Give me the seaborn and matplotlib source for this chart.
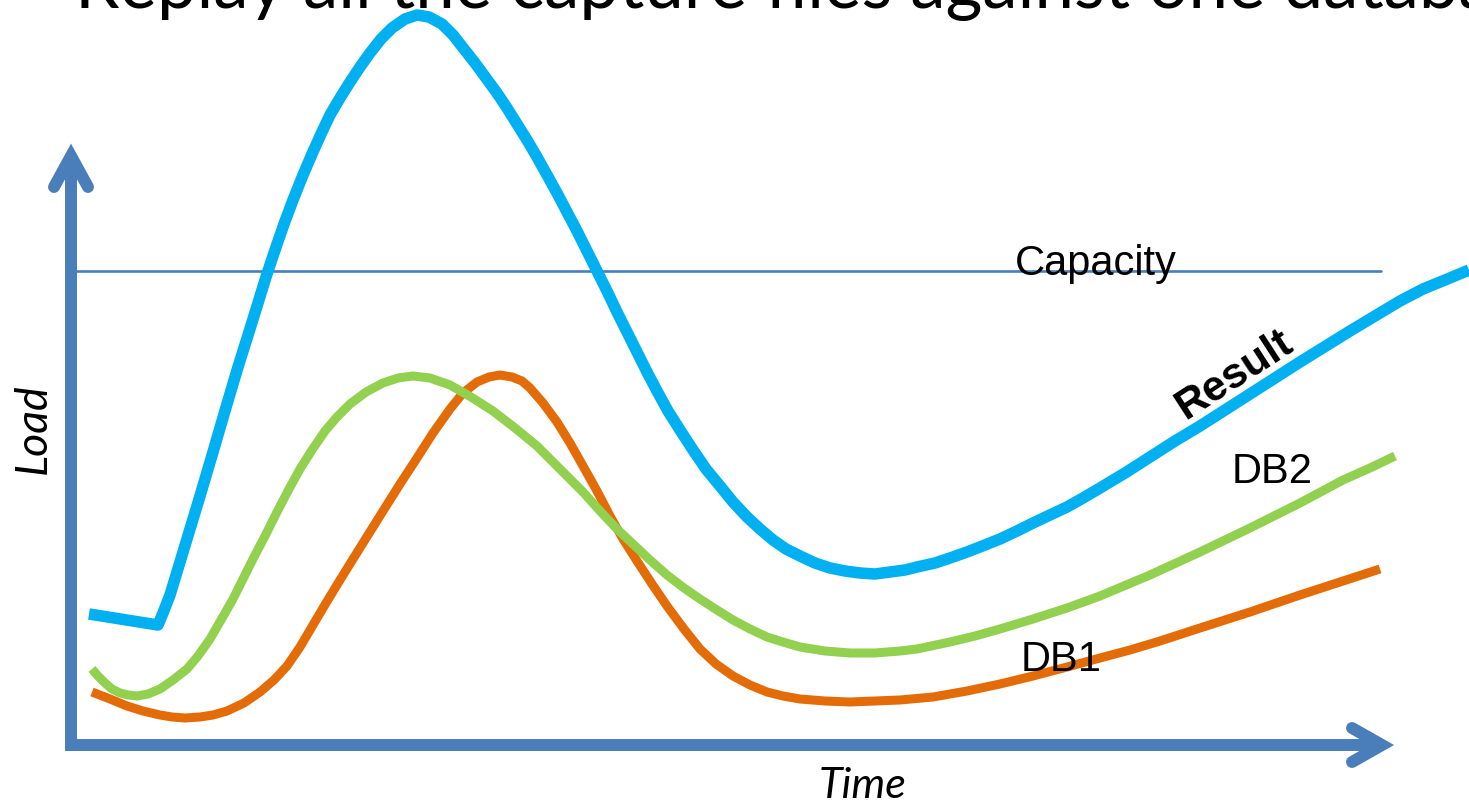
import matplotlib
matplotlib.use("Agg")
import matplotlib.pyplot as plt
import seaborn as sns
import pandas as pd

# ---- data (time, load); load 0 = time axis ----
result_time = [18, 87, 92, 99, 109, 119, 129, 142, 156, 167, 178, 187, 195, 204, 213, 222,
               232, 241, 250, 259, 269, 279, 289, 299, 310, 321, 334, 346, 358, 371, 382,
               393, 404, 415, 426, 436, 446, 456, 466, 476, 486, 496, 506, 516, 526, 536,
               546, 556, 566, 576, 586, 597, 609, 622, 635, 649, 662, 676, 689, 702, 715,
               729, 744, 759, 774, 789, 804, 819, 834, 846, 864, 879, 896, 914, 929, 946,
               962, 979, 996, 1012, 1029, 1054, 1079, 1104, 1129, 1179, 1229, 1279, 1329,
               1352, 1374, 1398]
result_load = [131, 120, 132, 150, 183, 216, 249, 293, 341, 378, 413, 442, 468, 495, 521, 545,
               570, 591, 611, 630, 647, 663, 678, 692, 706, 717, 726, 730, 728, 721, 710,
               696, 682, 667, 652, 637, 621, 605, 588, 570, 552, 533, 514, 494, 474, 454,
               433, 413, 393, 373, 354, 334, 315, 295, 276, 259, 243, 228, 216, 205, 196,
               189, 182, 177, 174, 172, 171, 173, 175, 178, 182, 187, 193, 200, 206, 214,
               222, 230, 238, 247, 257, 272, 288, 304, 319, 351, 383, 414, 444,
               456, 465, 475]

db2_time = [21, 27, 34, 41, 49, 57, 66, 77, 89, 102, 116, 127, 139, 150, 162, 172, 182,
            194, 206, 218, 229, 241, 254, 266, 279, 295, 312, 327, 342, 359, 379, 400,
            422, 444, 466, 489, 512, 529, 546, 563, 579, 596, 613, 629, 646, 662, 679,
            696, 712, 729, 754, 779, 804, 829, 846, 879, 904, 929, 962, 996, 1029, 1079,
            1129, 1179, 1229, 1272, 1299, 1324]
db2_load = [76, 69, 62, 56, 52, 50, 49, 51, 56, 65, 76, 89, 106, 125, 146, 166, 186,
            209, 233, 256, 276, 295, 314, 328, 341, 353, 362, 367, 369, 367, 360, 348,
            334, 317, 299, 276, 253, 234, 216, 200, 185, 170, 157, 146, 135, 125, 116,
            108, 103, 98, 94, 92, 92, 94, 96, 103, 109, 116, 126, 137, 149, 170,
            193, 217, 242, 265, 277, 289]

db1_time = [21, 39, 56, 72, 89, 101, 114, 129, 142, 156, 173, 189, 203, 216, 229, 242,
            255, 269, 282, 297, 312, 329, 346, 362, 379, 392, 406, 418, 429, 441, 451,
            459, 472, 486, 499, 512, 526, 539, 552, 566, 581, 596, 613, 629, 645, 662,
            679, 696, 712, 729, 754, 779, 804, 829, 862, 896, 929, 962, 996, 1029, 1059,
            1089, 1129, 1179, 1229, 1269, 1309]
db1_load = [53, 46, 39, 34, 30, 28, 27, 28, 30, 34, 42, 53, 65, 79, 98, 120,
            142, 165, 186, 210, 234, 261, 287, 312, 336, 352, 363, 368, 370, 368, 364,
            357, 342, 323, 302, 279, 254, 229, 206, 184, 161, 139, 116, 96, 81, 69,
            60, 53, 49, 46, 44, 43, 44, 45, 48, 54, 61, 69, 78, 87, 95,
            104, 117, 133, 150, 163, 176]

capacity_time = [6, 1310]
capacity_load = [474, 474]

title_text = "Replay all the capture files against one database"
labels = {"Capacity": "Capacity", "Result": "Result", "DB2": "DB2", "DB1": "DB1"}
x_label = "Time"
y_label = "Load"

# ---- styling ----
AXIS_C = "#4A7EBB"
BLUE = "#00B0F0"
GREEN = "#92D050"
ORANGE = "#E36C09"

sns.set_style("white")
plt.rcParams["font.family"] = ["Liberation Sans Narrow", "Liberation Sans", "DejaVu Sans"]

fig = plt.figure(figsize=(14.69, 8.04), dpi=100)
ax = fig.add_axes([0, 0, 1, 1])

# axes arrows (decoration)
ax.plot([0, 0], [-6, 589], color=AXIS_C, lw=8.6, solid_capstyle="butt")
ax.plot([-17, 0, 17], [558, 589, 558], color=AXIS_C, lw=8.6,
        solid_capstyle="round", solid_joinstyle="miter")
ax.plot([1, 1311], [0, 0], color=AXIS_C, lw=8.6, solid_capstyle="butt")
ax.plot([1281, 1311, 1281], [17, 0, -17], color=AXIS_C, lw=8.6,
        solid_capstyle="round", solid_joinstyle="miter")

# capacity line
sns.lineplot(x=capacity_time, y=capacity_load, ax=ax, color=AXIS_C, lw=1.9,
             sort=False, estimator=None)

df_res = pd.DataFrame({"time": result_time, "load": result_load})
df_db2 = pd.DataFrame({"time": db2_time, "load": db2_load})
df_db1 = pd.DataFrame({"time": db1_time, "load": db1_load})

sns.lineplot(data=df_db1, x="time", y="load", ax=ax, color=ORANGE, lw=6.5,
             sort=False, estimator=None, solid_capstyle="butt", solid_joinstyle="round")
sns.lineplot(data=df_db2, x="time", y="load", ax=ax, color=GREEN, lw=6.5,
             sort=False, estimator=None, solid_capstyle="butt", solid_joinstyle="round")
sns.lineplot(data=df_res, x="time", y="load", ax=ax, color=BLUE, lw=8.3,
             sort=False, estimator=None, solid_capstyle="butt", solid_joinstyle="round")
ax.set_xlim(-71, 1398)
ax.set_ylim(-58, 746)
ax.axis("off")

# labels
ax.text(944, 471, labels["Capacity"], fontsize=30, ha="left", va="baseline", color="black")
ax.text(1201, 274, labels["DB2"], fontsize=30, ha="center", va="center", color="black")
ax.text(990, 86, labels["DB1"], fontsize=30, ha="center", va="center", color="black")
ax.text(1163, 371, labels["Result"], fontsize=31, fontweight="bold", rotation=33,
        rotation_mode="anchor", ha="center", va="center", color="black")

ax.text(-38, 317, y_label, fontsize=32, style="italic", rotation=90, ha="center",
        va="center", family=["Lato", "DejaVu Sans"], color="black")
ax.text(792, -40, x_label, fontsize=31, style="italic", ha="center", va="center",
        family=["Lato", "DejaVu Sans"], color="black")

ax.text(4, 738, title_text, fontsize=51, ha="left", va="baseline",
        family=["Lato", "DejaVu Sans"], color="black")

fig.savefig("out.png", dpi=100)
